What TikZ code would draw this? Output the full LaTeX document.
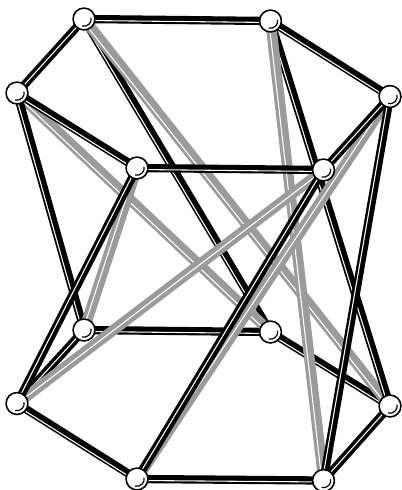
\documentclass[tikz,border=0pt]{standalone}
\usepackage{tikz}
\usetikzlibrary{backgrounds}

\definecolor{rodgray}{RGB}{155,155,155}
\tikzset{
    joint/.style={circle, draw=black, fill=white, line width=1.2pt, minimum size=16.4pt, inner sep=0pt,
        path picture={\draw[line width=.9pt] (path picture bounding box.center) ++(-105:5.4pt) arc (-105:10:5.4pt);}},
    dark/.style={line width=6.2pt, black},
    pale/.style={line width=8pt, rodgray},
}
\newcommand{\rod}[3]{
    \draw[#1] (#2.center) -- (#3.center);
    \draw[line width=.8pt, white, transform canvas={shift={(-1.1pt,-1.1pt)}}] (#2.center) -- (#3.center);
}

\begin{document}
\begin{tikzpicture}[x=.75pt, y=-.75pt]
    \useasboundingbox (0,0) rectangle (401,490);
    \node[joint] (a) at (84,19) {};
    \node[joint] (b) at (270.5,21) {};
    \node[joint] (c) at (390,96.5) {};
    \node[joint] (d) at (323.5,170) {};
    \node[joint] (e) at (137,168) {};
    \node[joint] (f) at (17,93) {};
    \node[joint] (g) at (84,330) {};
    \node[joint] (h) at (270.5,332) {};
    \node[joint] (i) at (390,406) {};
    \node[joint] (j) at (323.5,480.5) {};
    \node[joint] (k) at (137,479) {};
    \node[joint] (l) at (17,403.5) {};
    \begin{scope}[on background layer]
        \foreach \from/\to/\col in {a/b/dark, g/h/dark, a/h/dark,
            f/a/dark, b/c/dark, l/g/dark, h/i/dark, f/h/pale, a/i/pale, f/g/dark, b/i/dark,
            b/j/pale, e/g/pale,
            c/k/pale, d/l/pale, e/l/dark, c/j/dark, c/d/dark, f/e/dark, k/l/dark, i/j/dark,
            d/k/dark, d/e/dark, j/k/dark}
            {\rod{\col}{\from}{\to}}
    \end{scope}
\end{tikzpicture}
\end{document}
